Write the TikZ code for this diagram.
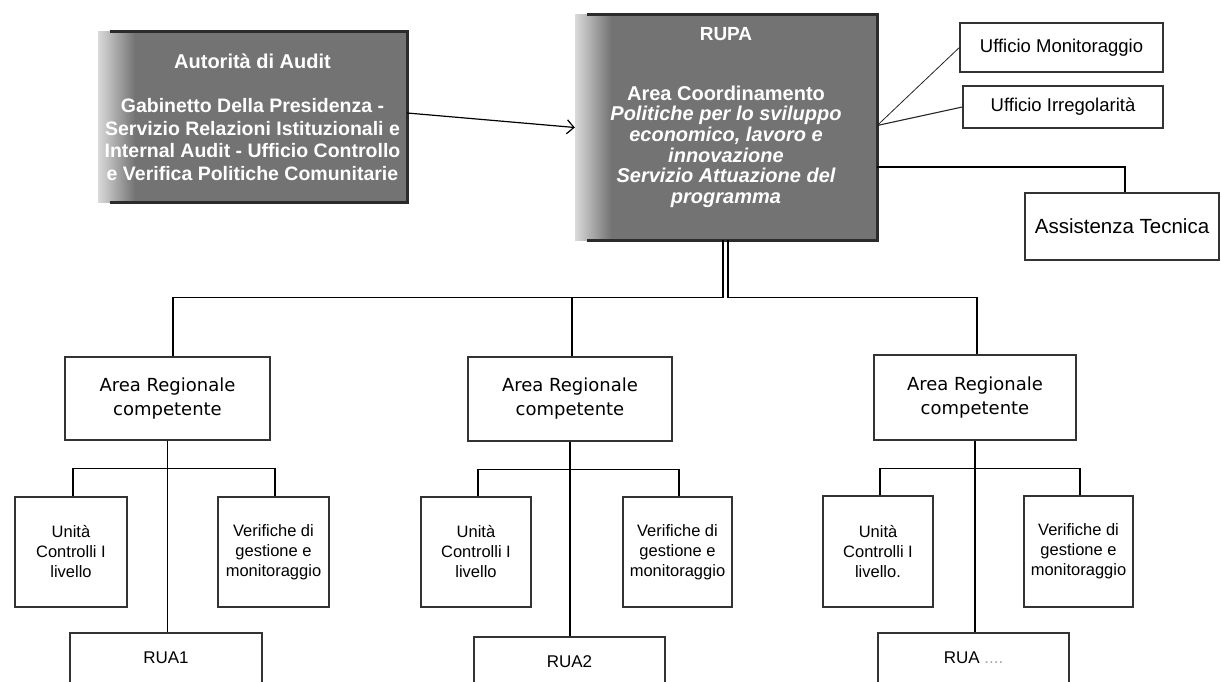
\documentclass[tikz,border=0pt]{standalone}
\usepackage{fontspec}
\setmainfont{Liberation Sans}
\newfontfamily\dejavu{DejaVu Sans}
\usetikzlibrary{arrows.meta}
\definecolor{boxgray}{HTML}{737373}
\definecolor{boxedge}{HTML}{2B2B2B}
\definecolor{glow}{HTML}{DADADA}
\definecolor{lineedge}{HTML}{333333}
\pgfdeclarehorizontalshading{glowshade}{100bp}{color(0bp)=(glow); color(25bp)=(glow); color(31bp)=(boxgray); color(100bp)=(boxgray)}
\tikzset{
  darkbox/.style={rectangle, inner sep=0pt, shade, shading=glowshade, text=white, align=center},
  darkedge/.style={line width=3pt, boxedge},
  lightbox/.style={rectangle, draw=lineedge, line width=1.3pt, fill=white, inner sep=0pt, align=center},
  areafont/.style={font=\dejavu\fontsize{18}{24}\selectfont},
  smallfont/.style={font=\fontsize{16.5}{20}\selectfont},
  conn/.style={line width=1.2pt, black},
  thinconn/.style={line width=0.8pt, black!85},
}
\begin{document}
\begin{tikzpicture}[x=1pt,y=-1pt]
\useasboundingbox (0,0) rectangle (1221,682);
\clip (0,0) rectangle (1221,682);
\fill[white] (0,0) rectangle (1221,682);

% dark boxes
\node[darkbox, minimum width=309pt, minimum height=170pt,
      font=\bfseries\fontsize{19.5}{22.4}\selectfont] (aut) at (252.5,117)
  {{\fontsize{20}{22}\selectfont Autorità di Audit}\\[22pt]
   Gabinetto Della Presidenza -\\
   Servizio Relazioni Istituzionali e\\
   Internal Audit - Ufficio Controllo\\
   e Verifica Politiche Comunitarie};
\draw[darkedge] ([xshift=12pt]aut.north west) -- (aut.north east) -- (aut.south east) -- ([xshift=12pt]aut.south west);

\node[darkbox, minimum width=302pt, minimum height=225pt] (rupa) at (726,127.5) {};
\draw[darkedge] ([xshift=12pt]rupa.north west) -- (rupa.north east) -- (rupa.south east) -- ([xshift=12pt]rupa.south west);
\node[text=white, align=center, inner sep=0pt, font=\bfseries\fontsize{20}{20.6}\selectfont]
  (rupatxt) at ([yshift=10pt]rupa.center)
  {{\fontsize{19}{20}\selectfont RUPA}\\[39pt]
   Area Coordinamento\\
   \itshape Politiche per lo sviluppo\\
   \itshape economico, lavoro e\\
   \itshape innovazione\\
   \itshape Servizio Attuazione del\\
   \itshape programma};

% right offices
\node[lightbox, minimum width=203pt, minimum height=49pt, font=\fontsize{18.5}{22}\selectfont]
  (uffmon) at (1061.5,47.5) {Ufficio Monitoraggio};
\node[lightbox, minimum width=200pt, minimum height=42pt, font=\fontsize{18.5}{22}\selectfont]
  (uffirr) at (1063,107) {Ufficio Irregolarità};
\node[lightbox, minimum width=194pt, minimum height=67pt, font=\fontsize{20.5}{24}\selectfont]
  (assist) at (1122,226.5) {Assistenza Tecnica};

% regional areas
\node[lightbox, areafont, minimum width=205pt, minimum height=83pt] (area1) at (167.5,398.5) {Area Regionale\\competente};
\node[lightbox, areafont, minimum width=204pt, minimum height=84pt] (area2) at (570,399) {Area Regionale\\competente};
\node[lightbox, areafont, minimum width=202pt, minimum height=85pt] (area3) at (975,397.5) {Area Regionale\\competente};

% units
\node[lightbox, smallfont, minimum width=112pt, minimum height=110pt] (unit1) at (71,552) {Unità\\Controlli I\\livello};
\node[lightbox, smallfont, minimum width=111pt, minimum height=110pt] (ver1) at (273.5,552) {Verifiche di\\gestione e\\monitoraggio};
\node[lightbox, smallfont, minimum width=110pt, minimum height=110pt] (unit2) at (476,552) {Unità\\Controlli I\\livello};
\node[lightbox, smallfont, minimum width=109pt, minimum height=110pt] (ver2) at (677.5,552) {Verifiche di\\gestione e\\monitoraggio};
\node[lightbox, smallfont, minimum width=110pt, minimum height=111pt] (unit3) at (878,551.5) {Unità\\Controlli I\\livello.};
\node[lightbox, smallfont, minimum width=109pt, minimum height=111pt] (ver3) at (1078.5,551.5) {Verifiche di\\gestione e\\monitoraggio};

% RUA boxes (cut by the page edge)
\node[lightbox, font=\fontsize{17}{20}\selectfont, minimum width=192pt, minimum height=50pt] (rua1) at (166,658) {RUA1};
\node[lightbox, font=\fontsize{17}{20}\selectfont, minimum width=191pt, minimum height=50pt] (rua2) at (569.5,662) {RUA2};
\node[lightbox, font=\fontsize{17}{20}\selectfont, minimum width=191pt, minimum height=50pt] (rua3) at (973.5,658) {RUA \textcolor{black!35}{....}};

% connectors top
\draw[conn, -{Straight Barb[length=7pt,width=14pt]}] ([yshift=4pt]aut.east) -- (rupa.west);
\coordinate (rupaR) at ([yshift=2pt]rupa.east);
\draw[thinconn] (rupaR) -- (uffmon.west);
\draw[thinconn, line width=1.1pt] (rupaR) -- (uffirr.west);
\draw[conn] ([yshift=-39.5pt]rupa.east) -| ([xshift=3pt]assist.north);

\coordinate (rupaL) at ([xshift=-3pt]rupa.south);
\coordinate (rupaD) at ([xshift=2pt]rupa.south);
\draw[conn] (rupaL) -- ++(0,57) -| ([xshift=5.5pt]area1.north);
\draw[conn] (rupaL) ++(0,57) -| ([xshift=2pt]area2.north);
\draw[conn] (rupaD) -- ++(0,57) -| ([xshift=2pt]area3.north);

% branches
\foreach \i in {1,2,3}{
  \coordinate (b\i) at ([yshift=-28pt]area\i.south);
  \draw[conn] (area\i.south) -- (area\i.south |- rua\i.north);
  \draw[conn] (b\i) -| ([xshift=2pt]unit\i.north);
  \draw[conn] (b\i) -| ([xshift=1.5pt]ver\i.north);
}
\end{tikzpicture}
\end{document}
